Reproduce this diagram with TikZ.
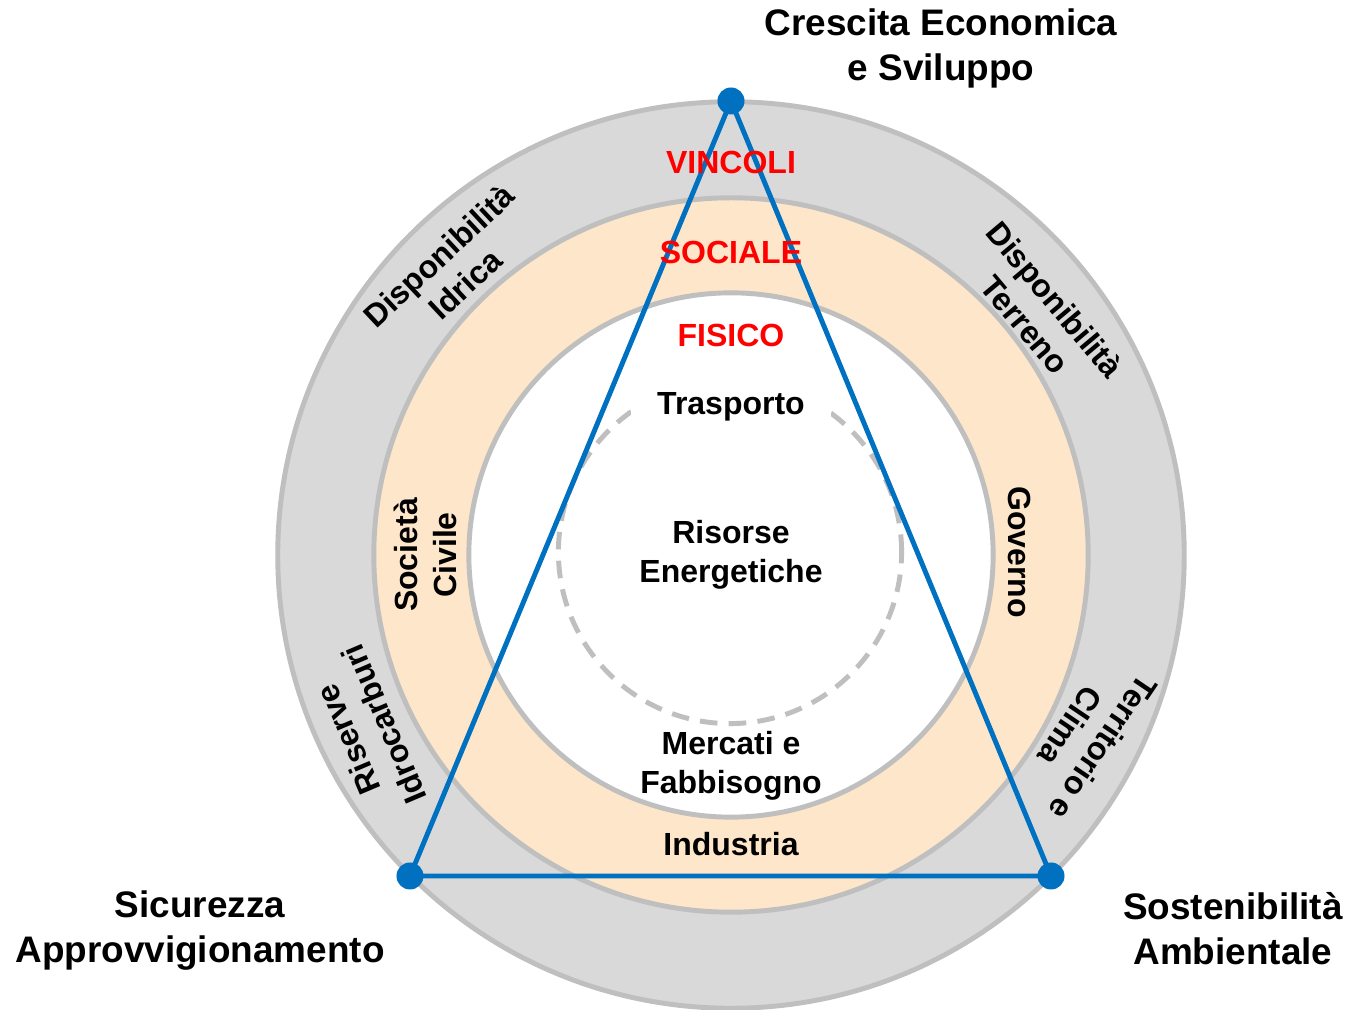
\documentclass[tikz,border=0pt]{standalone}
\usepackage{fontspec}
\setmainfont{Liberation Sans}
\usepackage{tikz}
\definecolor{ringgrey}{RGB}{217,217,217}
\definecolor{edgegrey}{RGB}{191,191,191}
\definecolor{ringorange}{RGB}{253,230,201}
\definecolor{triblue}{RGB}{0,112,192}
\definecolor{vred}{RGB}{255,0,0}
\tikzset{
	ring/.style={draw=edgegrey, line width=1.4pt},
	vertex/.style={circle, fill=triblue, inner sep=0pt, minimum size=0.27cm},
	side/.style={draw=triblue, line width=1.4pt, line join=round},
	goal/.style={align=center, font=\fontsize{10.5}{12.8}\selectfont\bfseries},
	field/.style={align=center, font=\fontsize{9.1}{11.1}\selectfont\bfseries},
	level/.style={font=\fontsize{9.1}{11.1}\selectfont\bfseries, text=vred},
}

\begin{document}
\begin{tikzpicture}[x=0.01cm, y=-0.01cm]
	\useasboundingbox (0,0) rectangle (1350,1010);
	
	% rings
	\draw[ring, fill=ringgrey] (731,555) circle[radius=4.53cm];
	\draw[ring, fill=ringorange] (731,555) circle[radius=3.57cm];
	\draw[ring, fill=white] (731,555) circle[radius=2.62cm];
	\draw[edgegrey, line width=1.4pt, dash pattern=on 5pt off 3.2pt] (730,552) circle[radius=1.715cm];
	\node[field, fill=white, minimum width=2cm, minimum height=0.64cm] (trasporto) at (731,407) {Trasporto};
	
	% triangle
	\node[vertex] (crescita) at (731,101) {};
	\node[vertex] (sicurezza) at (410,876) {};
	\node[vertex] (sostenib) at (1051,876) {};
	\draw[side] (crescita.center) -- (sicurezza.center) -- (sostenib.center) -- cycle;
	
	% corner labels
	\node[goal] (crescita-lbl) at (941,48) {Crescita Economica\\e Sviluppo};
	\node[goal] (sicurezza-lbl) at (200,931) {Sicurezza\\Approvvigionamento};
	\node[goal] (sostenib-lbl) at (1233,929) {Sostenibilità\\Ambientale};
	
	% levels
	\node[level] (vincoli) at (731,162) {VINCOLI};
	\node[level] (sociale) at (731,252) {SOCIALE};
	\node[level] (fisico) at (731,335) {FISICO};
	
	% outer ring
	\node[field, rotate=43] (idrica) at (452,270) {Disponibilità\\Idrica};
	\node[field, rotate=-50] (terreno) at (1040,312) {Disponibilità\\Terreno};
	\node[field, rotate=-124] (clima) at (1087,737) {Territorio e\\Clima};
	\node[field, rotate=113] (riserve) at (366,732) {Riserve\\Idrocarburi};
	
	% middle ring
	\node[field, rotate=90] (civile) at (425,555) {Società\\Civile};
	\node[field, rotate=-90] (governo) at (1020,552) {Governo};
	\node[field] (industria) at (731,844) {Industria};
	
	% inner circle
	\node[field] (risorse) at (731,555) {Risorse\\Energetiche};
	\node[field] (mercati) at (731,766) {Mercati e\\Fabbisogno};
\end{tikzpicture}
\end{document}
